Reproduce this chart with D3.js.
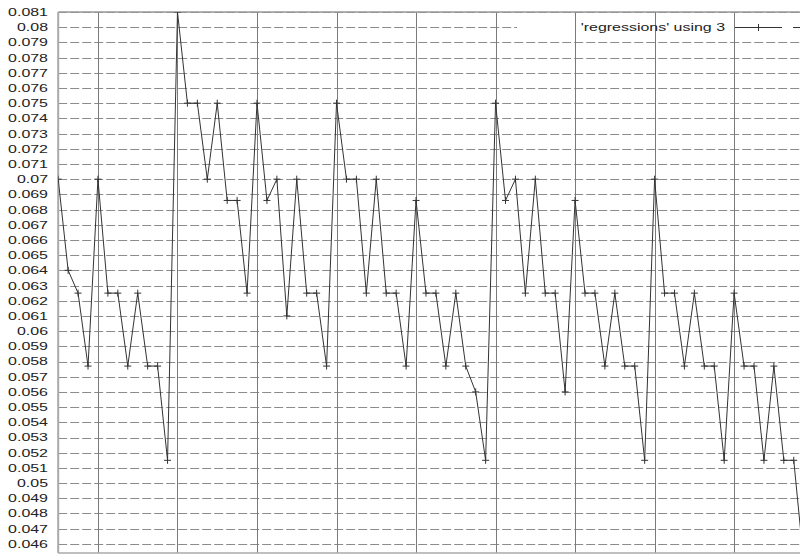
<!DOCTYPE html>
<html>
<head>
<meta charset="utf-8">
<script src="https://cdn.jsdelivr.net/npm/d3@7"></script>
<style>
  html, body { margin: 0; padding: 0; background: #fff; overflow: hidden; }
  svg { display: block; }
  text { font-family: "Liberation Sans", Arial, sans-serif; fill: #222; }
</style>
</head>
<body>
<svg id="chart" width="800" height="557"></svg>
<script>
// Column 3 of the 'regressions' data file, one value per record
const values = [
  0.070, 0.064, 0.0625, 0.0577, 0.070, 0.0625, 0.0625, 0.0577, 0.0625, 0.0577, 0.0577, 0.0515,
  0.081, 0.075, 0.075, 0.070, 0.075, 0.0686, 0.0686, 0.0625,
  0.075, 0.0686, 0.070, 0.061, 0.070, 0.0625, 0.0625, 0.0577,
  0.075, 0.070, 0.070, 0.0625, 0.070, 0.0625, 0.0625, 0.0577,
  0.0686, 0.0625, 0.0625, 0.0577, 0.0625, 0.0577, 0.056, 0.0515,
  0.075, 0.0686, 0.070, 0.0625, 0.070, 0.0625, 0.0625, 0.056,
  0.0686, 0.0625, 0.0625, 0.0577, 0.0625, 0.0577, 0.0577, 0.0515,
  0.070, 0.0625, 0.0625, 0.0577, 0.0625, 0.0577, 0.0577, 0.0515,
  0.0625, 0.0577, 0.0577, 0.0515, 0.0577, 0.0515, 0.0515, 0.0448
];

// y tick values and their printed labels
const yTicks = [0.081, 0.080, 0.079, 0.078, 0.077, 0.076, 0.075, 0.074, 0.073, 0.072,
  0.071, 0.070, 0.069, 0.068, 0.067, 0.066, 0.065, 0.064, 0.063, 0.062, 0.061, 0.060,
  0.059, 0.058, 0.057, 0.056, 0.055, 0.054, 0.053, 0.052, 0.051, 0.050, 0.049, 0.048,
  0.047, 0.046];
const yTickLabels = ["0.081", "0.08", "0.079", "0.078", "0.077", "0.076", "0.075", "0.074",
  "0.073", "0.072", "0.071", "0.07", "0.069", "0.068", "0.067", "0.066", "0.065", "0.064",
  "0.063", "0.062", "0.061", "0.06", "0.059", "0.058", "0.057", "0.056", "0.055", "0.054",
  "0.053", "0.052", "0.051", "0.05", "0.049", "0.048", "0.047", "0.046"];

// x grid positions (record numbers)
const xTicks = [4, 12, 20, 28, 36, 44, 52, 60, 68, 76];

const legendLabel = "'regressions' using 3";

const svg = d3.select("#chart");
const plotLeft = 58.2, plotTop = 12, plotBottom = 553;

const x = d3.scaleLinear().domain([0, 80]).range([plotLeft, plotLeft + 80 * 9.94]);
const y = d3.scaleLinear().domain([0.0454, 0.081]).range([plotBottom, plotTop]);

const stretch = 1.45;

svg.append("clipPath").attr("id", "plotclip")
  .append("rect").attr("x", plotLeft).attr("y", plotTop)
  .attr("width", 800 - plotLeft).attr("height", plotBottom - plotTop);

// horizontal grid (dashed)
svg.append("g").selectAll("line").data(yTicks).join("line")
  .attr("x1", plotLeft).attr("x2", 800)
  .attr("y1", d => Math.round(y(d)) + 0.5).attr("y2", d => Math.round(y(d)) + 0.5)
  .attr("stroke", "#8c8c8c").attr("stroke-width", 1)
  .attr("stroke-dasharray", "9,3");

// key area
svg.append("rect").attr("x", 517).attr("y", 20).attr("width", 283).attr("height", 17)
  .attr("fill", "#fff");

// vertical grid
svg.append("g").selectAll("line").data(xTicks).join("line")
  .attr("x1", d => Math.round(x(d)) + 0.5).attr("x2", d => Math.round(x(d)) + 0.5)
  .attr("y1", plotTop).attr("y2", plotBottom)
  .attr("stroke", "#7a7a7a").attr("stroke-width", 1);

// borders
svg.append("line").attr("x1", plotLeft).attr("x2", 800).attr("y1", plotTop).attr("y2", plotTop)
  .attr("stroke", "#999").attr("stroke-width", 1.5);
svg.append("line").attr("x1", plotLeft).attr("x2", 800).attr("y1", plotBottom).attr("y2", plotBottom)
  .attr("stroke", "#aaa").attr("stroke-width", 1.5);
svg.append("line").attr("x1", plotLeft).attr("x2", plotLeft).attr("y1", plotTop).attr("y2", plotBottom)
  .attr("stroke", "#aaa").attr("stroke-width", 2);

// y tick labels
svg.append("g").selectAll("text").data(yTicks).join("text")
  .attr("transform", d => `translate(48,${y(d)}) scale(${stretch},1)`)
  .attr("text-anchor", "end").attr("dy", "0.36em")
  .attr("font-size", 11)
  .text((d, i) => yTickLabels[i]);

// data line and point markers, clipped to the plot frame
const plot = svg.append("g").attr("clip-path", "url(#plotclip)");
const line = d3.line().x((d, i) => x(i)).y(d => y(d));
plot.append("path").datum(values)
  .attr("d", line).attr("fill", "none")
  .attr("stroke", "#333").attr("stroke-width", 1);

const plus = (cx, cy, s) => `M${cx - s},${cy}H${cx + s}M${cx},${cy - s}V${cy + s}`;
plot.append("g").selectAll("path").data(values).join("path")
  .attr("d", (d, i) => plus(x(i), y(d), 3.5))
  .attr("stroke", "#333").attr("stroke-width", 1).attr("fill", "none");

// key
const ky = 27;
svg.append("text")
  .attr("transform", `translate(725,${ky}) scale(${stretch},1)`)
  .attr("text-anchor", "end").attr("dy", "0.36em").attr("font-size", 11)
  .text(legendLabel);
svg.append("line").attr("x1", 735).attr("x2", 782).attr("y1", ky + 0.5).attr("y2", ky + 0.5)
  .attr("stroke", "#333").attr("stroke-width", 1);
svg.append("path").attr("d", plus(758.5, ky + 0.5, 3.5))
  .attr("stroke", "#333").attr("stroke-width", 1);
svg.append("line").attr("x1", 793).attr("x2", 800).attr("y1", ky + 0.5).attr("y2", ky + 0.5)
  .attr("stroke", "#333").attr("stroke-width", 1);
</script>
</body>
</html>
